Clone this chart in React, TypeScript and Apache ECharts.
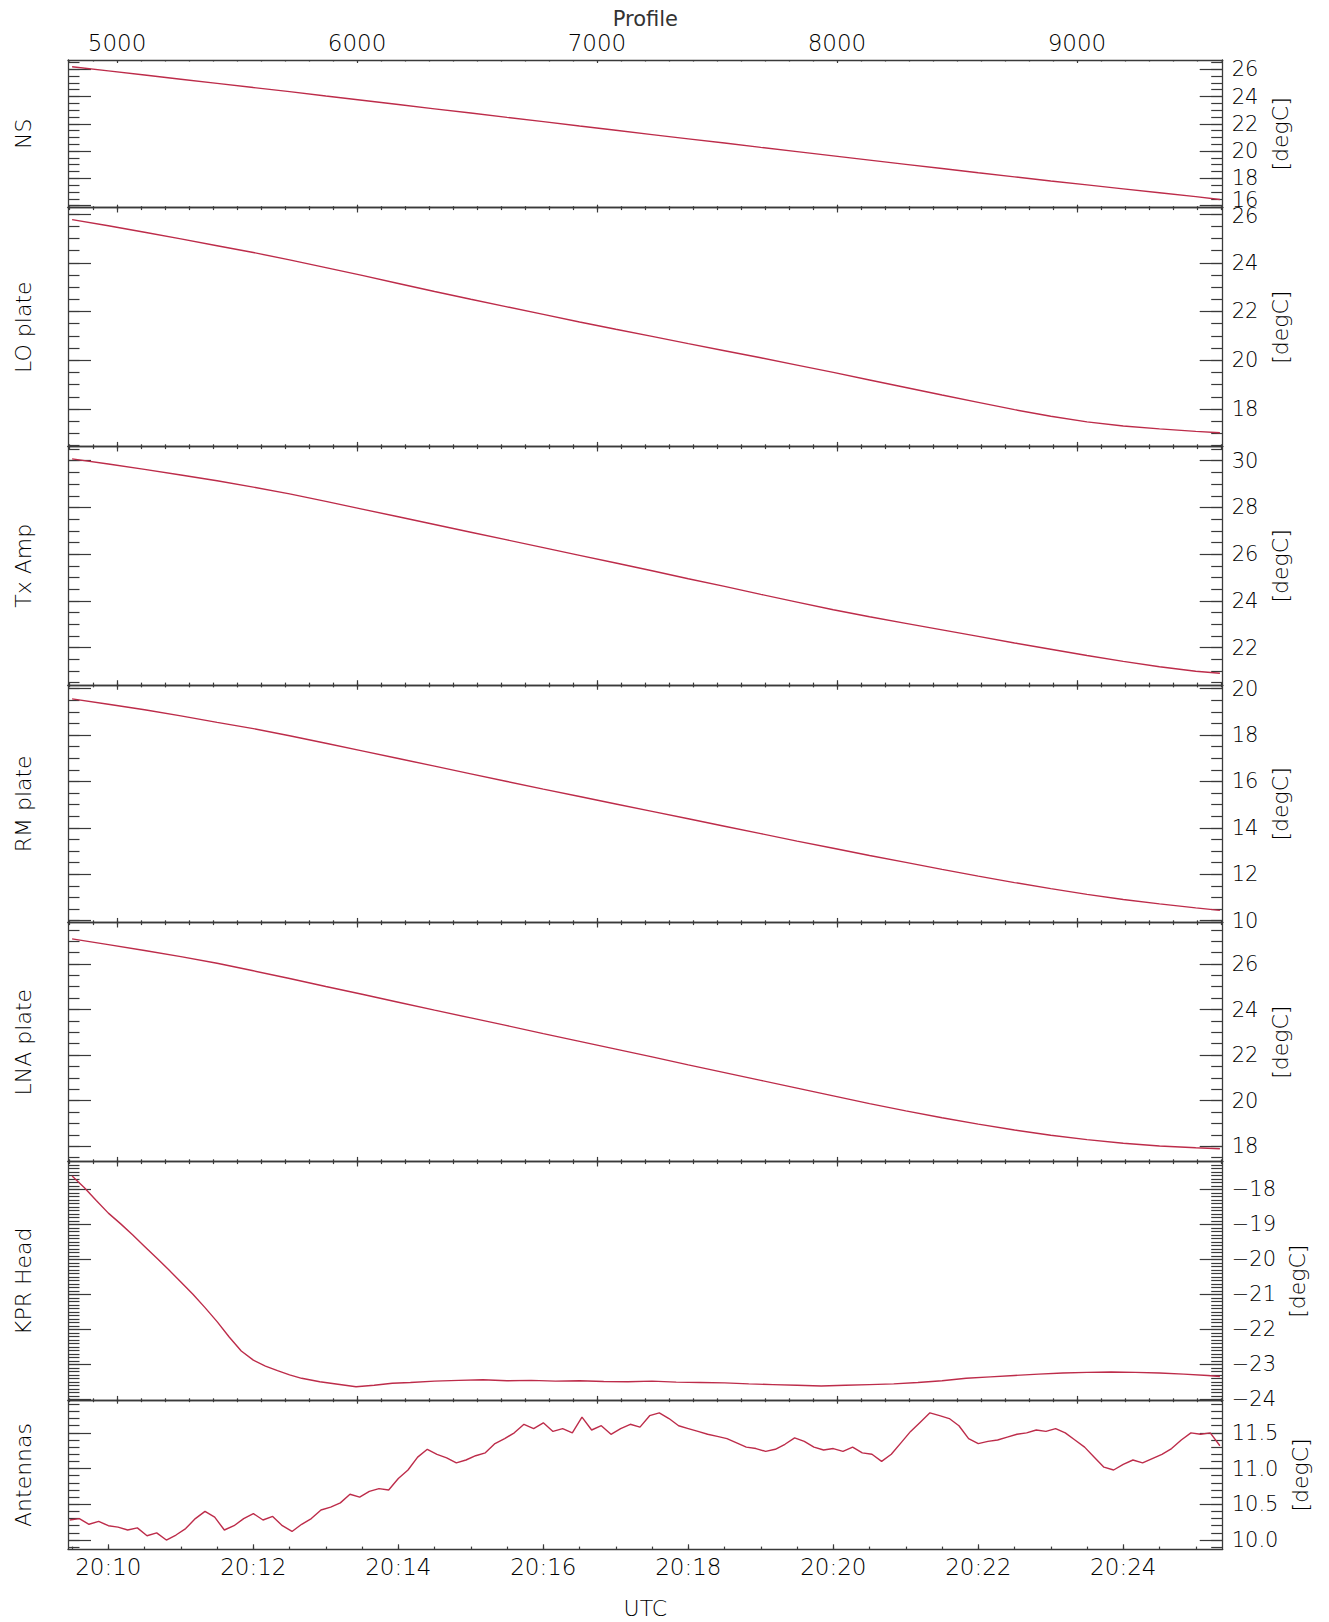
import React, { useEffect, useRef } from "react";
import * as echarts from "echarts";

// ---------------- data (time in seconds after 20:00:00 UTC) ----------------
const SMOOTH_T = [570, 600, 630, 660, 690, 720, 750, 780, 810, 840, 870, 900, 930, 960, 990, 1020, 1050, 1080, 1110, 1140, 1170, 1200, 1230, 1260, 1290, 1320, 1350, 1380, 1410, 1440, 1470, 1500, 1520];

const NS_V = [26.18, 25.88, 25.58, 25.27, 24.97, 24.66, 24.36, 24.04, 23.73, 23.42, 23.10, 22.79, 22.47, 22.16, 21.84, 21.53, 21.21, 20.90, 20.59, 20.27, 19.96, 19.65, 19.34, 19.03, 18.72, 18.41, 18.11, 17.81, 17.52, 17.23, 16.95, 16.66, 16.45];
const LO_V = [25.77, 25.52, 25.25, 24.98, 24.70, 24.42, 24.12, 23.80, 23.48, 23.15, 22.82, 22.50, 22.19, 21.88, 21.57, 21.27, 20.98, 20.68, 20.39, 20.10, 19.80, 19.50, 19.19, 18.88, 18.57, 18.27, 17.97, 17.70, 17.47, 17.30, 17.18, 17.08, 17.02];
const TX_V = [30.08, 29.86, 29.63, 29.39, 29.14, 28.87, 28.58, 28.26, 27.93, 27.60, 27.27, 26.94, 26.61, 26.28, 25.95, 25.62, 25.29, 24.95, 24.62, 24.28, 23.95, 23.62, 23.32, 23.04, 22.76, 22.48, 22.20, 21.93, 21.66, 21.41, 21.18, 20.99, 20.90];
const RM_V = [19.56, 19.33, 19.09, 18.83, 18.55, 18.28, 17.97, 17.65, 17.32, 16.99, 16.66, 16.33, 16.00, 15.67, 15.35, 15.03, 14.71, 14.39, 14.07, 13.75, 13.43, 13.12, 12.81, 12.51, 12.21, 11.92, 11.64, 11.38, 11.13, 10.91, 10.72, 10.55, 10.44];
const LNA_V = [27.10, 26.85, 26.59, 26.32, 26.03, 25.70, 25.36, 25.01, 24.67, 24.32, 23.97, 23.63, 23.29, 22.94, 22.60, 22.26, 21.92, 21.57, 21.23, 20.89, 20.55, 20.21, 19.87, 19.55, 19.25, 18.97, 18.71, 18.48, 18.29, 18.13, 18.01, 17.93, 17.89];

const KPR_T = [570, 580, 590, 600, 610, 620, 630, 640, 650, 660, 670, 680, 690, 700, 710, 720, 730, 740, 750, 760, 775, 790, 805, 820, 835, 850, 870, 890, 910, 930, 950, 970, 990, 1010, 1030, 1050, 1070, 1090, 1110, 1130, 1150, 1170, 1190, 1210, 1230, 1250, 1270, 1290, 1310, 1330, 1350, 1370, 1390, 1410, 1430, 1450, 1470, 1490, 1510, 1520];
const KPR_V = [-17.62, -17.95, -18.32, -18.68, -18.98, -19.30, -19.63, -19.96, -20.30, -20.65, -21.00, -21.38, -21.78, -22.22, -22.62, -22.88, -23.05, -23.18, -23.30, -23.40, -23.50, -23.57, -23.64, -23.60, -23.54, -23.52, -23.48, -23.46, -23.44, -23.47, -23.46, -23.48, -23.47, -23.49, -23.50, -23.48, -23.51, -23.52, -23.53, -23.56, -23.58, -23.60, -23.62, -23.60, -23.58, -23.56, -23.52, -23.47, -23.40, -23.36, -23.32, -23.28, -23.25, -23.23, -23.22, -23.23, -23.25, -23.28, -23.32, -23.35];

const ANT_T0 = 568;
const ANT_STEP = 8;
const ANT_V = [
  10.28, 10.30, 10.22, 10.26, 10.20, 10.18, 10.14, 10.17, 10.06, 10.10,
  10.00, 10.07, 10.16, 10.30, 10.40, 10.32, 10.14, 10.20, 10.30, 10.37,
  10.28, 10.33, 10.20, 10.12, 10.22, 10.30, 10.42, 10.46, 10.52, 10.64,
  10.60, 10.68, 10.72, 10.70, 10.86, 10.98, 11.16, 11.27, 11.20, 11.15,
  11.08, 11.12, 11.18, 11.22, 11.35, 11.42, 11.50, 11.62, 11.56, 11.64,
  11.52, 11.56, 11.50, 11.72, 11.54, 11.60, 11.48, 11.56, 11.62, 11.58,
  11.74, 11.78, 11.70, 11.60, 11.56, 11.52, 11.48, 11.45, 11.42, 11.36,
  11.30, 11.28, 11.24, 11.27, 11.34, 11.43, 11.38, 11.30, 11.26, 11.28,
  11.24, 11.30, 11.22, 11.20, 11.10, 11.20, 11.36, 11.52, 11.65, 11.78,
  11.74, 11.70, 11.60, 11.42, 11.35, 11.38, 11.40, 11.44, 11.48, 11.50,
  11.54, 11.52, 11.56, 11.50, 11.40, 11.30, 11.16, 11.02, 10.98, 11.06,
  11.12, 11.08, 11.14, 11.20, 11.28, 11.40, 11.50, 11.48, 11.50, 11.32,
];

// tick labels
const PROFILE_LABELS = [5000, 6000, 7000, 8000, 9000];
const UTC_LABELS = ["20:10", "20:12", "20:14", "20:16", "20:18", "20:20", "20:22", "20:24"];

const PANEL_NAMES = ["NS", "LO plate", "Tx Amp", "RM plate", "LNA plate", "KPR Head", "Antennas"];
const Y_MIN = [15.85, 16.45, 20.4, 9.91, 17.32, -24.04, 9.87];
const Y_MAX = [26.68, 26.26, 30.6, 20.16, 27.81, -17.21, 11.95];
const Y_TICKS = [
  [16, 18, 20, 22, 24, 26],
  [18, 20, 22, 24, 26],
  [22, 24, 26, 28, 30],
  [10, 12, 14, 16, 18, 20],
  [18, 20, 22, 24, 26],
  [-24, -23, -22, -21, -20, -19, -18],
  [10.0, 10.5, 11.0, 11.5],
];
const Y_MINOR_STEP = [0.5, 0.5, 0.5, 0.5, 0.5, 0.1, 0.1];

// ---------------- layout / style ----------------
const W = 1329;
const H = 1622;
const GRID_LEFT = 68;
const GRID_WIDTH = 1154.7;
const LAYOUT = [
  { top: 60, height: 147.7 },
  { top: 207.7, height: 239 },
  { top: 446.7, height: 238.3 },
  { top: 685, height: 237.7 },
  { top: 922.7, height: 239 },
  { top: 1161.7, height: 239 },
  { top: 1400.7, height: 148.6 },
];
const UNIT_GAP = [42, 40, 40, 40, 40, 60, 63];

const FONT = "DejaVu Sans";
const WEIGHT = 200;
const TEXT = "#000";
const AXIS = "#3a3a3a";
const LINE = "#bd2c4a";

const X_MIN = 566.6;
const X_MAX = 1522.3;
const P0_T = 607.2; // time of profile 5000
const P_RATE = 5.035; // profiles per second
const profToT = (p: number) => P0_T + (p - 5000) / P_RATE;
const tToProf = (t: number) => Math.round(((t - P0_T) * P_RATE + 5000) / 10) * 10;
const utcToT = (s: string) => {
  const [h, m] = s.split(":").map(Number);
  return (h - 20) * 3600 + m * 60;
};

function range(a: number, b: number, step: number) {
  const out: number[] = [];
  const n = Math.round((b - a) / step);
  for (let i = 0; i <= n; i++) out.push(+(a + i * step).toFixed(6));
  return out;
}

function App() {
  const ref = useRef<HTMLDivElement>(null);

  useEffect(() => {
    if (!ref.current) return;
    const chart = echarts.init(ref.current, undefined, { renderer: "svg" });

    const profMajorT = PROFILE_LABELS.map(profToT);
    const profMinorT = range(4800, 9600, 100).map(profToT).filter((t) => t >= X_MIN && t <= X_MAX);
    const utcMajorT = UTC_LABELS.map(utcToT);
    const utcMinorT = range(570, 1500, 30);

    const grids: any[] = [];
    const xAxes: any[] = [];
    const yAxes: any[] = [];
    const series: any[] = [];

    const lineStyle = { color: AXIS, width: 1.3 };
    const tickStyle = { color: AXIS, width: 1.2 };
    const txt = { color: TEXT, fontFamily: FONT, fontWeight: WEIGHT };

    const mkX = (g: number, pos: string, ticks: number[], len: number, showLine: boolean, extra: any = {}) => {
      xAxes.push({
        type: "value",
        gridIndex: g,
        position: pos,
        min: X_MIN,
        max: X_MAX,
        axisLine: { show: showLine, onZero: false, lineStyle },
        axisTick: { show: true, inside: true, length: len, customValues: ticks, lineStyle: tickStyle },
        axisLabel: { show: false },
        splitLine: { show: false },
        ...extra,
      });
      return xAxes.length - 1;
    };
    const mkY = (g: number, pos: string, ticks: number[], len: number, showLine: boolean, extra: any = {}) => {
      yAxes.push({
        type: "value",
        gridIndex: g,
        position: pos,
        min: Y_MIN[g],
        max: Y_MAX[g],
        axisLine: { show: showLine, onZero: false, lineStyle },
        axisTick: { show: true, inside: true, length: len, customValues: ticks, lineStyle: tickStyle },
        axisLabel: { show: false },
        splitLine: { show: false },
        ...extra,
      });
      return yAxes.length - 1;
    };

    const SERIES_T = [SMOOTH_T, SMOOTH_T, SMOOTH_T, SMOOTH_T, SMOOTH_T, KPR_T, ANT_V.map((_, i) => ANT_T0 + i * ANT_STEP)];
    const SERIES_V = [NS_V, LO_V, TX_V, RM_V, LNA_V, KPR_V, ANT_V];

    LAYOUT.forEach((l, g) => {
      grids.push({ left: GRID_LEFT, width: GRID_WIDTH, top: l.top, height: l.height, containLabel: false, outerBoundsMode: "none" });
      const xLen = Math.max(3, l.height * 0.02);

      // bottom x axis
      let dataX: number;
      if (g === LAYOUT.length - 1) {
        dataX = mkX(g, "bottom", utcMajorT, 5, true, {
          axisLabel: {
            show: true,
            customValues: utcMajorT,
            margin: 6,
            ...txt,
            fontSize: 23,
            formatter: (v: number) => {
              const m = Math.round((v % 3600) / 60);
              return "20:" + String(m).padStart(2, "0");
            },
          },
          name: "UTC",
          nameLocation: "middle",
          nameGap: 48,
          nameTextStyle: { ...txt, fontSize: 22 },
        });
        mkX(g, "bottom", utcMinorT, 2.7, false);
      } else {
        dataX = mkX(g, "bottom", profMajorT, xLen, true);
        mkX(g, "bottom", profMinorT, xLen / 2, false);
      }
      // top x axis
      if (g === 0) {
        mkX(g, "top", profMajorT, xLen, true, {
          axisLabel: {
            show: true,
            customValues: profMajorT,
            margin: 6,
            ...txt,
            fontSize: 23,
            formatter: (v: number) => String(tToProf(v)),
          },
          name: "Profile",
          nameLocation: "middle",
          nameGap: 31,
          nameTextStyle: { color: "#333", fontFamily: FONT, fontWeight: "normal", fontSize: 21 },
        });
      } else {
        mkX(g, "top", profMajorT, xLen, true);
      }
      mkX(g, "top", profMinorT, xLen / 2, false);

      const major = Y_TICKS[g];
      const step = Y_MINOR_STEP[g];
      const minor = range(Math.ceil(Y_MIN[g] / step) * step, Math.floor(Y_MAX[g] / step) * step, step);

      // left y axes
      mkY(g, "left", major, 23, true, {
        name: PANEL_NAMES[g],
        nameLocation: "middle",
        nameRotate: 90,
        nameGap: 34,
        nameTextStyle: { ...txt, fontSize: 22 },
      });
      mkY(g, "left", minor, 11.5, false);
      // right y axes
      const first = major[0];
      const last = major[major.length - 1];
      const dataY = mkY(g, "right", major, 23, true, {
        axisLabel: {
          show: true,
          customValues: major,
          showMinLabel: true,
          showMaxLabel: true,
          hideOverlap: false,
          inside: false,
          margin: 9,
          ...txt,
          fontSize: 21,
          formatter: (v: number) => {
            const s = g === 6 ? v.toFixed(1) : String(Math.round(v)).replace("-", "\u2212");
            if (g === 0 && v === first) return "{up|" + s + "}";
            if (g === 1 && v === last) return "{dn|" + s + "}";
            return s;
          },
          rich: {
            up: { ...txt, fontSize: 21, padding: [0, 0, 12, 0] },
            dn: { ...txt, fontSize: 21, padding: [4, 0, 0, 0] },
          },
        },
        name: "[degC]",
        nameLocation: "middle",
        nameRotate: 90,
        nameGap: UNIT_GAP[g],
        nameTextStyle: { ...txt, fontSize: 22 },
      });
      mkY(g, "right", minor, 11.5, false);

      const ts = SERIES_T[g];
      const vs = SERIES_V[g];
      series.push({
        type: "line",
        xAxisIndex: dataX,
        yAxisIndex: dataY,
        data: vs.map((v, i) => [ts[i], v]),
        showSymbol: false,
        symbol: "none",
        lineStyle: { color: LINE, width: 1.4 },
        silent: true,
        clip: true,
      });
    });

    chart.setOption({
      animation: false,
      backgroundColor: "#ffffff",
      grid: grids,
      xAxis: xAxes,
      yAxis: yAxes,
      series,
    });

    return () => chart.dispose();
  }, []);

  return (
    <div
      ref={ref}
      style={{ position: "absolute", left: 0, top: 0, width: W, height: H, background: "#fff" }}
    />
  );
}

export default App;
